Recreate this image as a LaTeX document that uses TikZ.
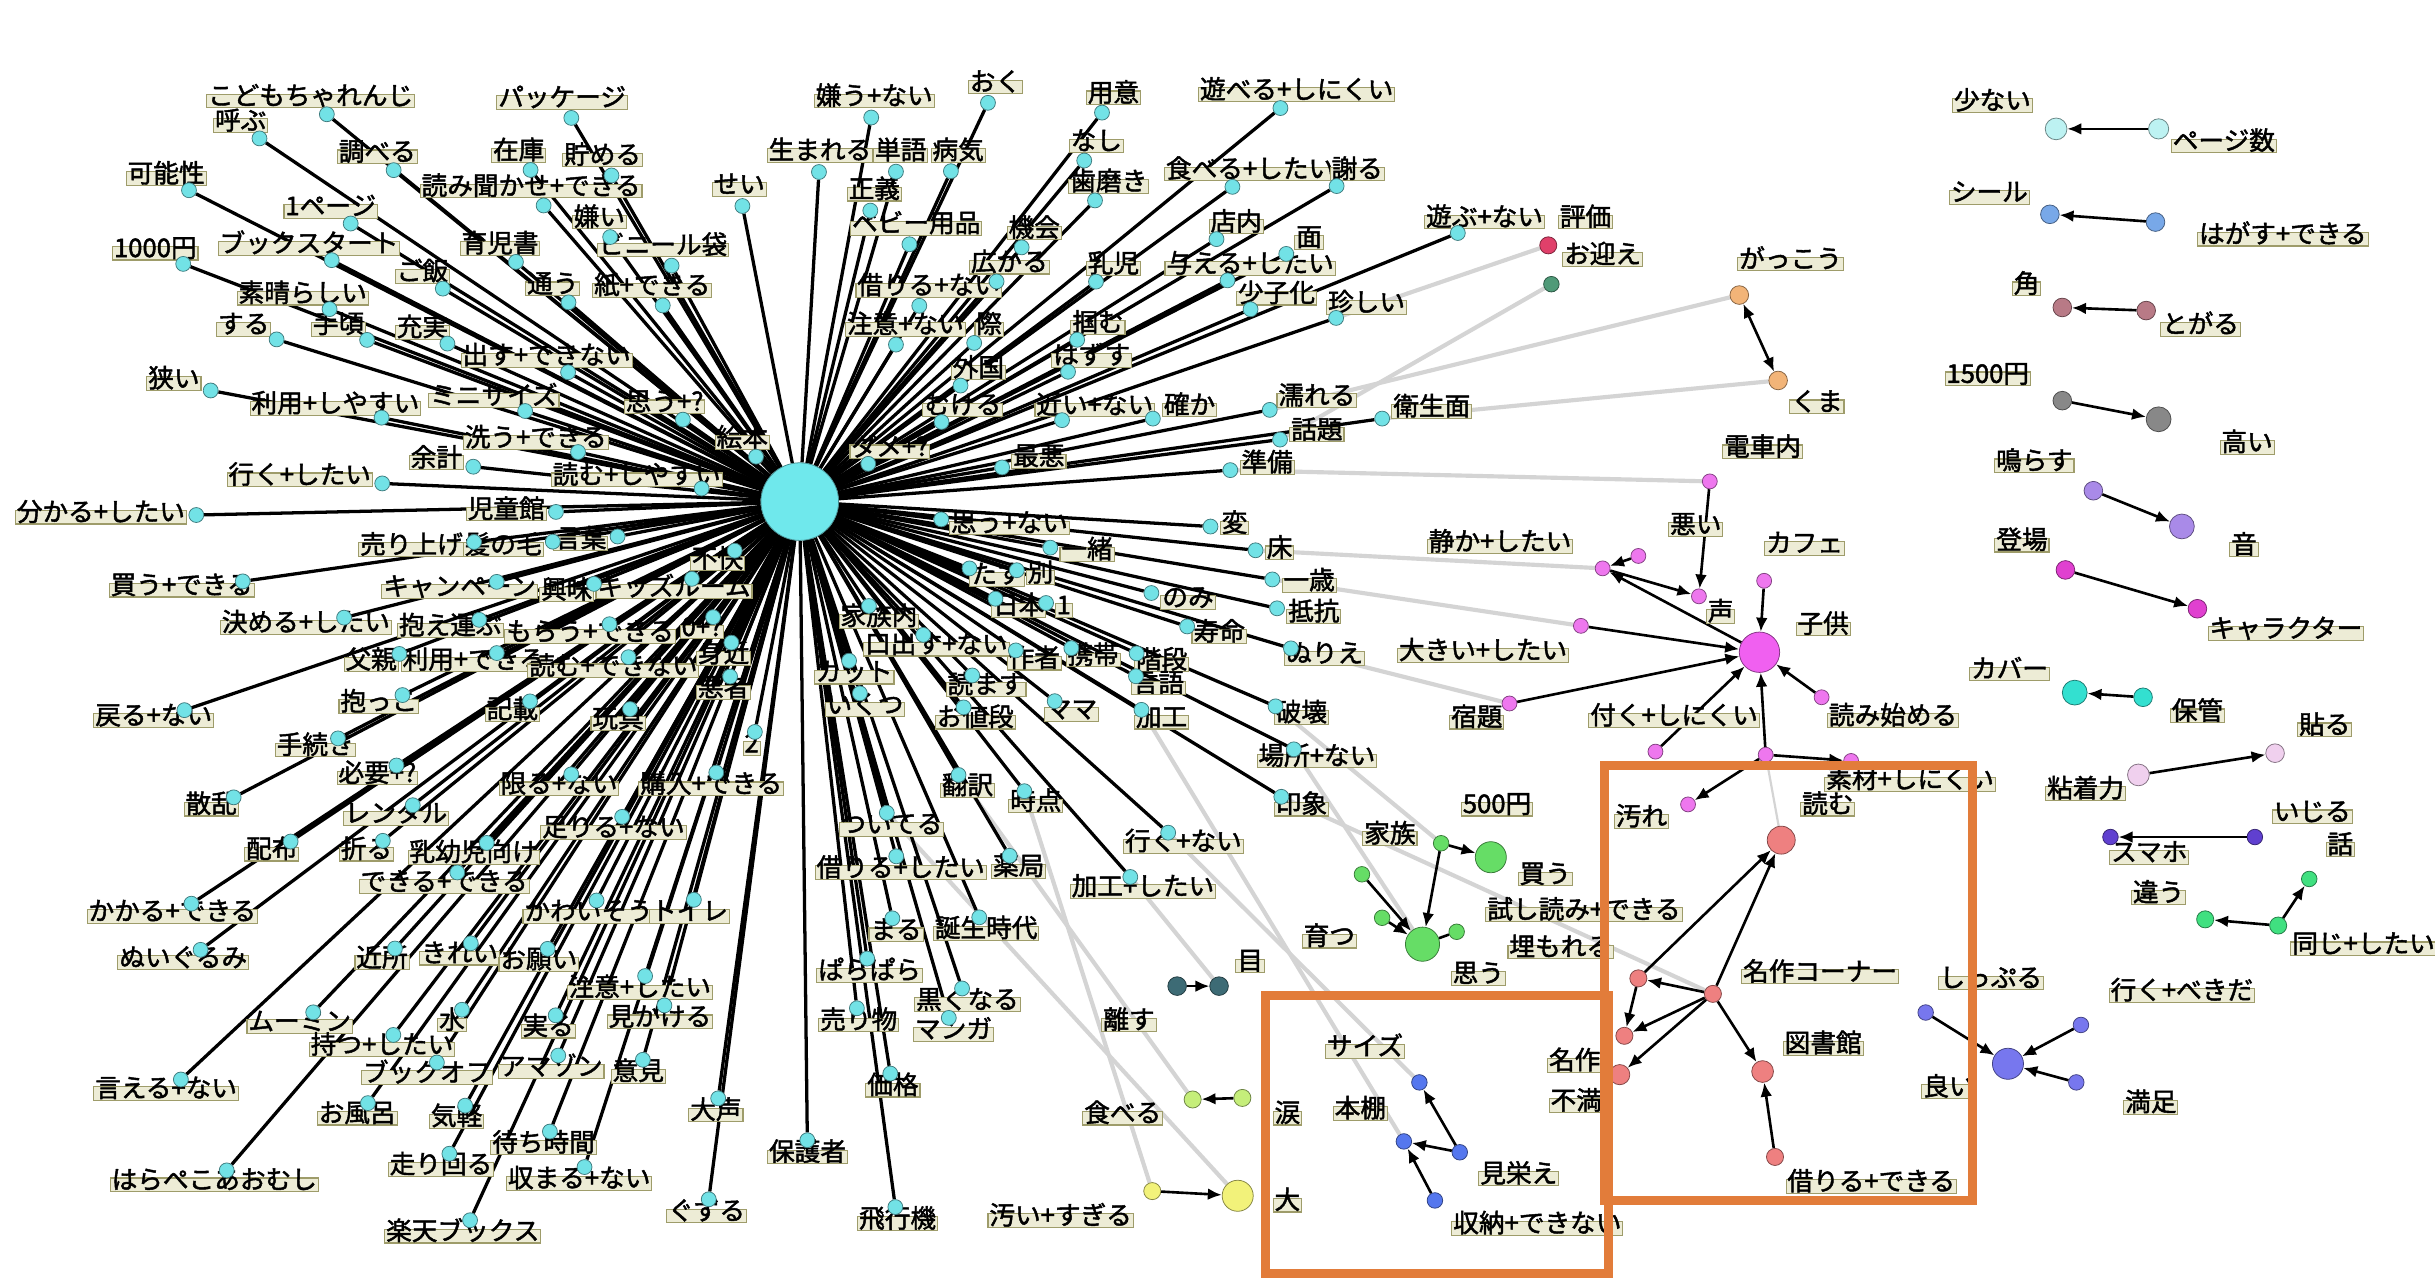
\documentclass[tikz,border=0pt]{standalone}
\usepackage{fontspec}
\newfontfamily\jp[FakeBold=1.8]{Noto Sans CJK JP}
\usetikzlibrary{arrows.meta,calc}
\pgfdeclarelayer{bg}\pgfdeclarelayer{edges}\pgfsetlayers{bg,edges,main}
\definecolor{labfill}{HTML}{EDECD6}
\definecolor{labdraw}{HTML}{9E9C6A}
\definecolor{cyanf}{HTML}{72E2E6}
\definecolor{hubc}{HTML}{6FE8EC}
\definecolor{pk}{HTML}{EE77EE}
\definecolor{pkh}{HTML}{F060F0}
\definecolor{salm}{HTML}{EE8080}
\definecolor{grn}{HTML}{66DD66}
\definecolor{blu}{HTML}{5577EE}
\definecolor{pur}{HTML}{7777EE}
\definecolor{tea}{HTML}{3D6B75}
\definecolor{lgr}{HTML}{C5EE7A}
\definecolor{yel}{HTML}{F2F27A}
\definecolor{crim}{HTML}{E0406A}
\definecolor{omg}{HTML}{4F9A78}
\definecolor{tan}{HTML}{F2B478}
\definecolor{pcy}{HTML}{BDF2F2}
\definecolor{cfl}{HTML}{78A8E8}
\definecolor{mau}{HTML}{B87A86}
\definecolor{gry}{HTML}{888888}
\definecolor{lav}{HTML}{A98AE8}
\definecolor{mag}{HTML}{E040D0}
\definecolor{tur}{HTML}{33E0D0}
\definecolor{ppk}{HTML}{F0D0EE}
\definecolor{ind}{HTML}{6040D0}
\definecolor{gr2}{HTML}{40E080}
\definecolor{orng}{HTML}{E27C3A}
\tikzset{
  lab/.style={draw=labdraw, fill=labfill, line width=1pt, inner sep=1.3pt,
    font=\jp\fontsize{23.5}{23.5}\selectfont, text height=0.86em, text depth=0.14em},
  cd/.style={circle, inner sep=0pt, minimum size=4.8mm, fill=cyanf, draw=cyanf!55!black, line width=0.7pt},
  nd/.style 2 args={circle, inner sep=0pt, minimum size=#2, fill=#1, draw=#1!55!black, line width=0.7pt},
  he/.style={line width=3pt, black},
  ge/.style={line width=3.8pt, black!17},
  ar/.style={line width=2.4pt, black, -{Latex[length=4.5mm,width=3.8mm]}},
  br/.style={line width=2.4pt, black, {Latex[length=4.5mm,width=3.8mm]}-{Latex[length=4.5mm,width=3.8mm]}},
  ln/.style={line width=2.4pt, black},
  box/.style={draw=orng, line width=8pt}
}
\def\hublist{h1/200/65/こどもちゃれんじ,h2/155/81/呼ぶ,h3/362/66/パッケージ,h4/107/115/可能性,h5/243/101/調べる,h6/334/100/在庫,h7/388/103/貯める,h8/342/123/読み聞かせ+できる,h9/213/136/1ページ,h10/476/122/せい,h11/386/143/嫌い,h12/100/163/1000円,h13/199/160/ブックスタート,h14/322/160/育児書,h15/427/161/ビニール袋,h16/272/178/ご飯,h17/356/186/通う,h18/420/187/紙+できる,h19/195/192/素晴らしい,h20/157/212/する,h21/218/212/手頃,h22/272/214/充実,h23/352/232/出す+できない,h24/112/247/狭い,h25/216/263/利用+しやすい,h26/318/258/ミニサイズ,h27/428/262/思う+?,h28/478/285/絵本,h29/281/298/余計,h30/345/285/洗う+できる,h31/193/309/行く+したい,h32/410/309/読む+しやすい,h33/65/333/分かる+したい,h34/326/331/児童館,h35/265/354/売り上げ,h36/324/354/髪の毛,h37/374/350/言葉,h38/117/380/買う+できる,h39/296/381/キャンペーン,h40/365/383/興味,h41/434/381/キッズルーム,h42/462/363/不快,h43/197/404/決める+したい,h44/290/406/抱え運ぶ,h45/380/410/もらう+できる,h46/452/407/0+?,h47/239/428/父親,h48/305/428/利用+できる,h49/395/432/読む+できない,h50/466/424/身近,h51/466/446/悪者,h52/99/464/戻る+ない,h53/244/455/抱っこ,h54/330/460/記載,h55/203/483/手続き,h56/398/466/玩具,h57/484/482/2,h58/243/501/必要+?,h59/360/508/限る+ない,h60/458/508/購入+できる,h61/136/521/散乱,h62/255/527/レンタル,h63/395/536/足りる+ない,h64/175/550/配布,h65/236/550/折る,h66/305/552/乳幼児向け,h67/286/571/できる+できる,h68/111/590/かかる+できる,h69/379/590/かわいそう,h70/444/590/トイレ,h71/118/620/ぬいぐるみ,h72/246/620/近所,h73/296/617/きれい,h74/347/621/お願い,h75/412/639/注意+したい,h76/193/661/ムーミン,h77/291/660/水,h78/353/664/実る,h79/425/658/見かける,h80/246/676/持つ+したい,h81/275/694/ブックオフ,h82/355/690/アマゾン,h83/411/693/意見,h84/107/704/言える+ない,h85/230/720/お風呂,h86/294/722/気軽,h87/461/718/大声,h88/284/753/走り回る,h89/350/739/待ち時間,h90/138/763/はらぺこあおむし,h91/373/762/収まる+ない,h92/455/783/ぐずる,h93/298/796/楽天ブックス,h94/520/745/保護者,h95/578/788/飛行機,h96/563/65/嫌う+ない,h97/641/56/おく,h98/528/100/生まれる,h99/580/100/単語,h100/617/100/病気,h101/563/125/正義,h102/717/63/用意,h103/706/94/なし,h104/835/61/遊べる+しにくい,h105/714/120/歯磨き,h106/805/112/食べる+したい,h107/874/112/謝る,h108/590/147/ベビー用品,h109/666/150/機会,h110/796/146/店内,h111/843/156/面,h112/650/172/広がる,h113/717/173/乳児,h114/805/173/与える+したい,h115/598/187/借りる+ない,h116/822/192/少子化,h117/880/198/珍しい,h118/956/143/遊ぶ+ない,h119/583/212/注意+ない,h120/637/212/際,h121/707/211/掴む,h122/630/240/外国,h123/703/232/はずす,h124/620/264/むける,h125/705/264/近い+ない,h126/766/264/確か,h127/848/258/濡れる,h128/848/280/話題,h129/922/265/衛生面,h130/573/291/ダメ+?,h131/669/297/最悪,h132/816/301/準備,h133/650/340/思う+ない,h134/700/357/一緒,h135/795/340/変,h136/824/356/床,h137/843/377/一歳,h138/846/397/抵抗,h139/642/373/たす,h140/670/372/別,h141/765/388/のみ,h142/656/393/日本,h143/685/393/1,h144/566/400/家族内,h145/603/418/口出す+ない,h146/785/410/寿命,h147/666/427/作者,h148/704/425/携帯,h149/748/428/階段,h150/853/424/ぬりえ,h151/550/436/カット,h152/635/444/読ます,h153/746/443/言語,h154/838/462/破壊,h155/557/457/いくつ,h156/628/465/お値段,h157/690/460/ママ,h158/748/465/加工,h159/848/490/場所+ない,h160/623/509/翻訳,h161/667/519/時点,h162/838/521/印象,h163/574/534/ついてる,h164/762/545/行く+ない,h165/580/562/借りる+したい,h166/656/561/薬局,h167/736/574/加工+したい,h168/577/602/まる,h169/635/601/誕生時代,h170/560/628/ぱらぱら,h171/553/660/売り物,h172/623/647/黒くなる,h173/614/666/マンガ,h174/575/702/価格}
\begin{document}
\begin{tikzpicture}[x=0.5mm,y=-0.5mm]
\useasboundingbox (0,0) rectangle (1568,827);
\begin{pgfonlayer}{bg}\fill[white] (0,0) rectangle (1568,827);\end{pgfonlayer}
% central hub
\node[circle, fill=hubc, draw=hubc!60!black, line width=0.7pt, minimum size=25mm, inner sep=0pt] (hub) at (515,323) {};
% hub labels
\foreach \id/\lx/\ly/\txt in \hublist {\node[lab] (L\id) at (\lx,\ly) {\txt};}
% hub dots and edges
\foreach \id/\lx/\ly/\txt in \hublist {
  \path (L\id) -- (hub) coordinate[pos=0] (B\id);
  \node[cd] (D\id) at ($(B\id)!3mm!(hub)$) {};
  \begin{pgfonlayer}{edges}\draw[he] (hub) -- (D\id);\end{pgfonlayer}
}
% ---------- single nodes top right ----------
\node[nd={crim}{5.5mm}] (hyoka) at (997,158) {};
\node[nd={omg}{5mm}] (omukae) at (999,183) {};
\node[lab] (lhyoka) at (1021,143) {評価};
\node[lab] (lomukae) at (1032,167) {お迎え};
\node[nd={tan}{6mm}] (gakkou) at (1120,190) {};
\node[nd={tan}{6mm}] (kuma) at (1145,245) {};
\node[lab] (lgakkou) at (1153,170) {がっこう};
\node[lab] (lkuma) at (1170,262) {くま};
\draw[br] (gakkou) -- (kuma);
% ---------- pink cluster ----------
\node[nd={pk}{4.8mm}] (p1) at (1101,310) {};
\node[nd={pk}{4.8mm}] (p2) at (1094,384) {};
\node[nd={pk}{4.8mm}] (p3) at (1032,366) {};
\node[nd={pk}{4.8mm}] (p4) at (1055,358) {};
\node[nd={pk}{4.8mm}] (p5) at (1136,374) {};
\node[nd={pkh}{13mm}] (p0) at (1133,420) {};
\node[nd={pk}{4.8mm}] (p6) at (1018,403) {};
\node[nd={pk}{4.8mm}] (p7) at (972,453) {};
\node[nd={pk}{4.8mm}] (p8) at (1066,484) {};
\node[nd={pk}{4.8mm}] (p9) at (1137,486) {};
\node[nd={pk}{4.8mm}] (p10) at (1173,449) {};
\node[nd={pk}{4.8mm}] (p11) at (1192,490) {};
\node[nd={pk}{4.8mm}] (p12) at (1087,518) {};
\begin{pgfonlayer}{edges}
\draw[ar] (p1) -- (p2);
\draw[ar] (p3) -- (p2);
\draw[ar] (p4) -- (p3);
\draw[ar] (p0) -- (p3);
\draw[ar] (p6) -- (p0);
\draw[ar] (p7) -- (p0);
\draw[ar] (p5) -- (p0);
\draw[ar] (p8) -- (p0);
\draw[ar] (p9) -- (p0);
\draw[ar] (p10) -- (p0);
\draw[ar] (p9) -- (p11);
\draw[ar] (p9) -- (p12);
\end{pgfonlayer}
\node[lab] (ldensha) at (1135,291) {電車内};
\node[lab] (lwarui) at (1092,341) {悪い};
\node[lab] (lshizuka) at (966,352) {静か+したい};
\node[lab] (lcafe) at (1162,353) {カフェ};
\node[lab] (lkoe) at (1108,397) {声};
\node[lab] (lkodomo) at (1174,405) {子供};
\node[lab] (lookii) at (955,422) {大きい+したい};
\node[lab] (lshukudai) at (951,465) {宿題};
\node[lab] (ltsuku) at (1078,464) {付く+しにくい};
\node[lab] (lyomihaji) at (1219,464) {読み始める};
\node[lab] (lsozai) at (1230,505) {素材+しにくい};
\node[lab] (lyogore) at (1057,529) {汚れ};
% ---------- salmon cluster ----------
\node[nd={salm}{9mm}] (r1) at (1147,541) {};
\node[nd={salm}{5.5mm}] (r2) at (1055,630) {};
\node[nd={salm}{5.5mm}] (r3) at (1103,640) {};
\node[nd={salm}{5.5mm}] (r4) at (1046,667) {};
\node[nd={salm}{6.5mm}] (r5) at (1043,692) {};
\node[nd={salm}{7mm}] (r6) at (1135,690) {};
\node[nd={salm}{5.5mm}] (r7) at (1143,745) {};
\begin{pgfonlayer}{edges}
\draw[ar] (r2) -- (r1);
\draw[ar] (r3) -- (r1);
\draw[ar] (r3) -- (r2);
\draw[ar] (r2) -- (r4);
\draw[ar] (r3) -- (r4);
\draw[ar] (r3) -- (r5);
\draw[ar] (r3) -- (r6);
\draw[ar] (r7) -- (r6);
\end{pgfonlayer}
\node[lab] (lyomu) at (1177,521) {読む};
\node[lab] (lmeisakuc) at (1172,629) {名作コーナー};
\node[lab] (ltoshokan) at (1174,675) {図書館};
\node[lab] (lmeisaku) at (1014,686) {名作};
\node[lab] (lfuman) at (1015,712) {不満};
\node[lab] (lkariru) at (1205,764) {借りる+できる};
% ---------- green cluster ----------
\node[nd={grn}{5mm}] (g1) at (928,543) {};
\node[nd={grn}{10mm}] (g2) at (960,552) {};
\node[nd={grn}{5mm}] (g3) at (877,563) {};
\node[nd={grn}{5mm}] (g4) at (890,591) {};
\node[nd={grn}{11mm}] (g5) at (916,608) {};
\node[nd={grn}{5mm}] (g6) at (938,600) {};
\begin{pgfonlayer}{edges}
\draw[ar] (g1) -- (g2);
\draw[ar] (g1) -- (g5);
\draw[ar] (g3) -- (g5);
\draw[ar] (g4) -- (g5);
\draw[ln] (g6) -- (g5);
\end{pgfonlayer}
\node[lab] (l500) at (964,521) {500円};
\node[lab] (lkazoku) at (895,540) {家族};
\node[lab] (lkau) at (995,566) {買う};
\node[lab] (ltameshi) at (1020,589) {試し読み+できる};
\node[lab] (lsodatsu) at (856,606) {育つ};
\node[lab] (lumoreru) at (1005,613) {埋もれる};
\node[lab] (lomou) at (952,630) {思う};
% ---------- small pairs lower middle ----------
\node[nd={tea}{6mm}] (t1) at (758,635) {};
\node[nd={tea}{6mm}] (t2) at (785,635) {};
\draw[ar] (t1) -- (t2);
\node[lab] (lme) at (805,622) {目};
\node[lab] (lhanasu) at (727,660) {離す};
\node[nd={lgr}{5.5mm}] (lg1) at (768,708) {};
\node[nd={lgr}{5.5mm}] (lg2) at (800,707) {};
\draw[ar] (lg2) -- (lg1);
\node[lab] (ltaberu) at (723,720) {食べる};
\node[lab] (lnamida) at (829,720) {涙};
\node[nd={yel}{5.5mm}] (y1) at (742,767) {};
\node[nd={yel}{10mm}] (y2) at (797,770) {};
\draw[ar] (y1) -- (y2);
\node[lab] (lkitanai) at (683,786) {汚い+すぎる};
\node[lab] (ldai) at (829,776) {大};
% ---------- blue cluster ----------
\node[nd={blu}{5mm}] (b1) at (914,697) {};
\node[nd={blu}{5mm}] (b2) at (904,735) {};
\node[nd={blu}{5mm}] (b3) at (940,742) {};
\node[nd={blu}{5mm}] (b4) at (924,773) {};
\draw[ar] (b3) -- (b1);
\draw[ar] (b3) -- (b2);
\draw[ar] (b4) -- (b2);
\node[lab] (lsize) at (879,677) {サイズ};
\node[lab] (lhondana) at (876,717) {本棚};
\node[lab] (lmibae) at (978,759) {見栄え};
\node[lab] (lshuno) at (990,791) {収納+できない};
% ---------- purple cluster ----------
\node[nd={pur}{10mm}] (v0) at (1293,685) {};
\node[nd={pur}{5mm}] (v1) at (1240,652) {};
\node[nd={pur}{5mm}] (v2) at (1340,660) {};
\node[nd={pur}{5mm}] (v3) at (1337,697) {};
\draw[ar] (v1) -- (v0);
\draw[ar] (v2) -- (v0);
\draw[ar] (v3) -- (v0);
\node[lab] (lshippuru) at (1282,633) {しっぷる};
\node[lab] (likubeki) at (1405,641) {行く+べきだ};
\node[lab] (lyoi) at (1255,703) {良い};
\node[lab] (lmanzoku) at (1385,713) {満足};
% ---------- far right pairs ----------
\node[nd={pcy}{7mm}] (q1a) at (1324,83) {};
\node[nd={pcy}{6.5mm}] (q1b) at (1390,83) {};
\draw[ar] (q1b) -- (q1a);
\node[lab] (lsukunai) at (1283,68) {少ない};
\node[lab] (lpage) at (1432,94) {ページ数};
\node[nd={cfl}{6mm}] (q2a) at (1320,138) {};
\node[nd={cfl}{6mm}] (q2b) at (1388,143) {};
\draw[ar] (q2b) -- (q2a);
\node[lab] (lseal) at (1281,127) {シール};
\node[lab] (lhagasu) at (1470,154) {はがす+できる};
\node[nd={mau}{6mm}] (q3a) at (1328,198) {};
\node[nd={mau}{6mm}] (q3b) at (1382,200) {};
\draw[ar] (q3b) -- (q3a);
\node[lab] (lkado) at (1305,186) {角};
\node[lab] (ltogaru) at (1417,212) {とがる};
\node[nd={gry}{6mm}] (q4a) at (1328,258) {};
\node[nd={gry}{8mm}] (q4b) at (1390,270) {};
\draw[ar] (q4a) -- (q4b);
\node[lab] (l1500) at (1280,244) {1500円};
\node[lab] (ltakai) at (1447,288) {高い};
\node[nd={lav}{6mm}] (q5a) at (1348,316) {};
\node[nd={lav}{8mm}] (q5b) at (1405,339) {};
\draw[ar] (q5a) -- (q5b);
\node[lab] (lnarasu) at (1310,300) {鳴らす};
\node[lab] (loto) at (1445,354) {音};
\node[nd={mag}{6mm}] (q6a) at (1330,367) {};
\node[nd={mag}{6mm}] (q6b) at (1415,392) {};
\draw[ar] (q6a) -- (q6b);
\node[lab] (ltojo) at (1302,351) {登場};
\node[lab] (lchara) at (1472,408) {キャラクター};
\node[nd={tur}{8mm}] (q7a) at (1336,446) {};
\node[nd={tur}{6mm}] (q7b) at (1380,449) {};
\draw[ar] (q7b) -- (q7a);
\node[lab] (lcover) at (1294,434) {カバー};
\node[lab] (lhokan) at (1415,461) {保管};
\node[nd={ppk}{7mm}] (q8a) at (1377,499) {};
\node[nd={ppk}{6mm}] (q8b) at (1465,485) {};
\draw[ar] (q8a) -- (q8b);
\node[lab] (lnenchaku) at (1343,511) {粘着力};
\node[lab] (lharu) at (1497,470) {貼る};
\node[nd={ind}{5mm}] (q9a) at (1359,539) {};
\node[nd={ind}{5mm}] (q9b) at (1452,539) {};
\draw[ar] (q9b) -- (q9a);
\node[lab] (lsumaho) at (1384,552) {スマホ};
\node[lab] (lijiru) at (1489,526) {いじる};
\node[nd={gr2}{5.5mm}] (q10a) at (1420,592) {};
\node[nd={gr2}{5.5mm}] (q10b) at (1467,596) {};
\node[nd={gr2}{5mm}] (q10c) at (1487,566) {};
\draw[ar] (q10b) -- (q10a);
\draw[ar] (q10b) -- (q10c);
\node[lab] (lchigau) at (1390,578) {違う};
\node[lab] (lhanashi) at (1507,547) {話};
\node[lab] (lonaji) at (1522,611) {同じ+したい};
% ---------- grey inter-cluster edges ----------
\begin{pgfonlayer}{bg}
\draw[ge] (Dh117) -- (hyoka);
\draw[ge] (Dh128) -- (omukae);
\draw[ge] (Dh127) -- (gakkou);
\draw[ge] (Dh129) -- (kuma);
\draw[ge] (Dh132) -- (p1);
\draw[ge] (Dh136) -- (p3);
\draw[ge] (Dh137) -- (p6);
\draw[ge] (Dh150) -- (p7);
\draw[ge] (Dh154) -- (g1);
\draw[ge] (Dh159) -- (g5);
\draw[ge] (Dh162) -- (r3);
\draw[ge] (Dh164) -- (b1);
\draw[ge] (Dh158) -- (b2);
\draw[ge] (Dh167) -- (t2);
\draw[ge] (Dh161) -- (y1);
\draw[ge] (Dh160) -- (lg1);
\draw[ge] (Dh163) -- (y2);
\draw[ge, line width=2pt] (p9) -- (r1);
\end{pgfonlayer}
% ---------- highlight boxes ----------
\draw[box] (1033,493) rectangle (1270,773);
\draw[box] (815,641) rectangle (1036,820);
\end{tikzpicture}
\end{document}
